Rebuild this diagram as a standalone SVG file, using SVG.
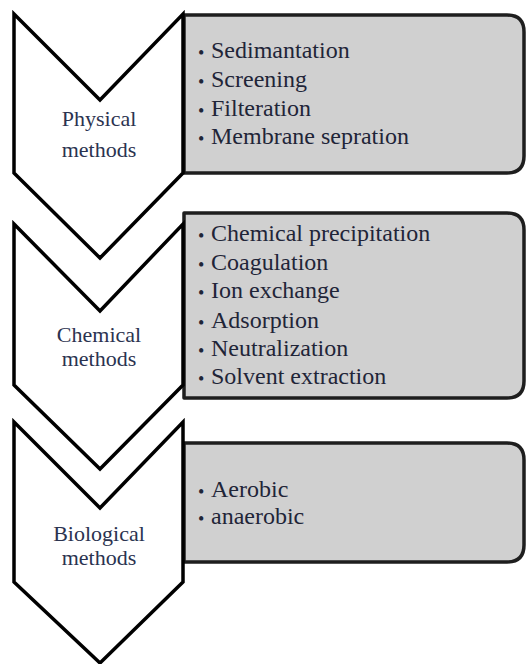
<svg xmlns="http://www.w3.org/2000/svg" width="527" height="664" viewBox="0 0 527 664">
<style>
.box{fill:#d0d0d0;stroke:#1e1e1e;stroke-width:3.5;stroke-linejoin:round}
.chev{fill:#ffffff;stroke:#000000;stroke-width:3.5;stroke-linejoin:miter}
.t{font-family:"Liberation Serif","Times New Roman",serif;font-size:24px;fill:#1f2538}
.b{font-family:"Liberation Serif","Times New Roman",serif;font-size:18px;fill:#1f2538}
.lbl{font-family:"Liberation Serif","Times New Roman",serif;font-size:22px;fill:#2b3350;text-anchor:middle}
</style>
<rect width="527" height="664" fill="#ffffff"/>
<g id="connectors"></g>
<g id="box-physical">
<path class="box" d="M184 15 H507 Q524 15 524 32 V156 Q524 173 507 173 H184 Z"/>
<text class="b" x="198" y="59">•</text><text class="t" x="211" y="58">Sedimantation</text>
<text class="b" x="198" y="88">•</text><text class="t" x="211" y="87">Screening</text>
<text class="b" x="198" y="116.5">•</text><text class="t" x="211" y="115.5">Filteration</text>
<text class="b" x="198" y="145">•</text><text class="t" x="211" y="144">Membrane sepration</text>
</g>
<g id="box-chemical">
<path class="box" d="M184 213 H507 Q524 213 524 230 V381 Q524 398 507 398 H184 Z"/>
<text class="b" x="198" y="241.5">•</text><text class="t" x="211" y="240.5">Chemical precipitation</text>
<text class="b" x="198" y="270.5">•</text><text class="t" x="211" y="269.5">Coagulation</text>
<text class="b" x="198" y="299">•</text><text class="t" x="211" y="298">Ion exchange</text>
<text class="b" x="198" y="328.5">•</text><text class="t" x="211" y="327.5">Adsorption</text>
<text class="b" x="198" y="357">•</text><text class="t" x="211" y="356">Neutralization</text>
<text class="b" x="198" y="385">•</text><text class="t" x="211" y="384">Solvent extraction</text>
</g>
<g id="box-biological">
<path class="box" d="M184 443 H507 Q524 443 524 460 V545 Q524 562 507 562 H184 Z"/>
<text class="b" x="198" y="497.5">•</text><text class="t" x="211" y="496.5">Aerobic</text>
<text class="b" x="198" y="525">•</text><text class="t" x="211" y="524">anaerobic</text>
</g>
<g id="chevron-physical">
<polygon class="chev" points="14,14 100,100 183,14 183,173 100,258 14,173"/>
<text class="lbl" x="99" y="126">Physical</text>
<text class="lbl" x="99" y="157">methods</text>
</g>
<g id="chevron-chemical">
<polygon class="chev" points="14,224 100,311 183,224 183,385 100,469 14,385"/>
<text class="lbl" x="99" y="342">Chemical</text>
<text class="lbl" x="99" y="366">methods</text>
</g>
<g id="chevron-biological">
<polygon class="chev" points="14,422 100,508 183,422 183,582 100,663 14,582"/>
<text class="lbl" x="99" y="541">Biological</text>
<text class="lbl" x="99" y="565">methods</text>
</g>
</svg>
